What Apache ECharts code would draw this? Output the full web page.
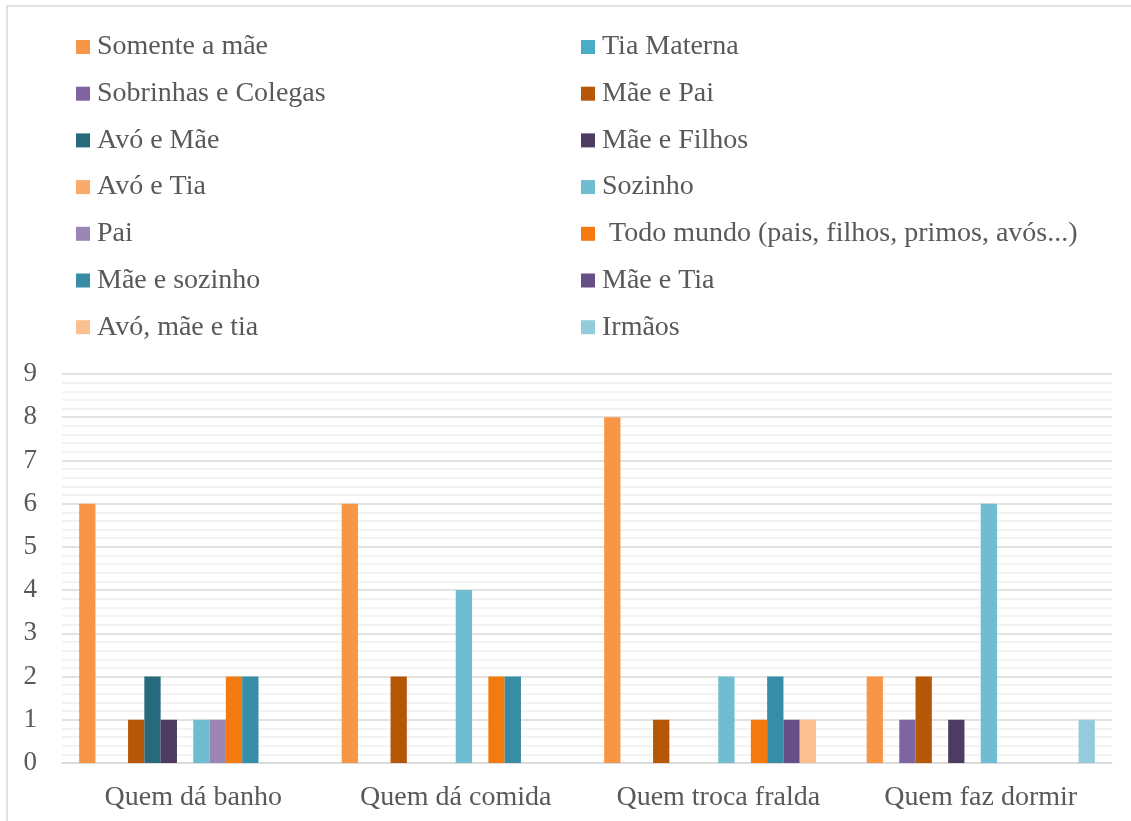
<!DOCTYPE html>
<html>
<head>
<meta charset="utf-8">
<script src="https://cdn.jsdelivr.net/npm/echarts@6/dist/echarts.min.js"></script>
<style>
  html, body { margin: 0; padding: 0; background: #fff; }
  #chart { width: 1131px; height: 821px; }
</style>
</head>
<body>
<div id="chart"></div>
<script>
// Categories on the x axis
const categories = ['Quem dá banho', 'Quem dá comida', 'Quem troca fralda', 'Quem faz dormir'];

// Series names, in legend order (row by row, two columns)
const seriesNames = [
  'Somente a mãe', 'Tia Materna',
  'Sobrinhas e Colegas', 'Mãe e Pai',
  'Avó e Mãe', 'Mãe e Filhos',
  'Avó e Tia', 'Sozinho',
  'Pai', ' Todo mundo (pais, filhos, primos, avós...)',
  'Mãe e sozinho', 'Mãe e Tia',
  'Avó, mãe e tia', 'Irmãos'
];

// Counts per category for each series
const somenteAMae      = [6, 6, 8, 2];
const tiaMaterna       = [0, 0, 0, 0];
const sobrinhasColegas = [0, 0, 0, 1];
const maeEPai          = [1, 2, 1, 2];
const avoEMae          = [2, 0, 0, 0];
const maeEFilhos       = [1, 0, 0, 1];
const avoETia          = [0, 0, 0, 0];
const sozinho          = [1, 4, 2, 6];
const pai              = [1, 0, 0, 0];
const todoMundo        = [2, 2, 1, 0];
const maeESozinho      = [2, 2, 2, 0];
const maeETia          = [0, 0, 1, 0];
const avoMaeTia        = [0, 0, 1, 0];
const irmaos           = [0, 0, 0, 1];

// Y axis tick labels
const yTicks = ['0', '1', '2', '3', '4', '5', '6', '7', '8', '9'];

const seriesValues = [
  somenteAMae, tiaMaterna, sobrinhasColegas, maeEPai, avoEMae, maeEFilhos,
  avoETia, sozinho, pai, todoMundo, maeESozinho, maeETia, avoMaeTia, irmaos
];

const colors = [
  '#F79646', '#4BACC6', '#8064A2', '#B65708', '#276A7C', '#4D3B62',
  '#F9AB6B', '#70BDD1', '#9B85B5', '#F27A0E', '#378DA6', '#664F86',
  '#FAC090', '#93CDDD'
];

const font = '"Liberation Serif", "Times New Roman", serif';
const textColor = '#595959';

const chart = echarts.init(document.getElementById('chart'));

const legendCommon = {
  orient: 'vertical',
  top: 32,
  padding: 0,
  itemWidth: 14,
  itemHeight: 14,
  itemGap: 16.7,
  icon: 'rect',
  selectedMode: false,
  textStyle: { fontFamily: font, fontSize: 28, color: textColor, lineHeight: 30, padding: [0, 0, 0, 2] }
};

chart.setOption({
  animation: false,
  color: colors,
  graphic: [{
    type: 'rect',
    shape: { x: 7, y: 6, width: 1300, height: 1000 },
    style: { fill: 'none', stroke: '#d9d9d9', lineWidth: 1.5 },
    silent: true
  }],
  legend: [
    Object.assign({}, legendCommon, { left: 76, data: seriesNames.filter((_, i) => i % 2 === 0) }),
    Object.assign({}, legendCommon, { left: 581, data: seriesNames.filter((_, i) => i % 2 === 1) })
  ],
  grid: { left: 62, right: 19, top: 374, bottom: 58 },
  xAxis: {
    type: 'category',
    data: categories,
    axisLine: { lineStyle: { color: '#d9d9d9', width: 1.5 } },
    axisTick: { show: false },
    axisLabel: { interval: 0, fontFamily: font, fontSize: 28, color: textColor, margin: 21 }
  },
  yAxis: {
    type: 'value',
    min: 0,
    max: 9,
    interval: 1,
    axisLine: { show: false },
    axisTick: { show: false },
    axisLabel: {
      fontFamily: font, fontSize: 27, color: textColor, margin: 25,
      formatter: v => yTicks[Math.round(v)]
    },
    splitLine: { lineStyle: { color: '#d9d9d9', width: 1.5 } },
    minorTick: { show: false, splitNumber: 5 },
    minorSplitLine: { show: true, lineStyle: { color: '#f0f0f0', width: 1.5 } }
  },
  series: seriesNames.map((name, i) => ({
    name,
    type: 'bar',
    data: seriesValues[i],
    barWidth: 16.3,
    barGap: '0%',
    itemStyle: { color: colors[i] }
  }))
});
</script>
</body>
</html>
